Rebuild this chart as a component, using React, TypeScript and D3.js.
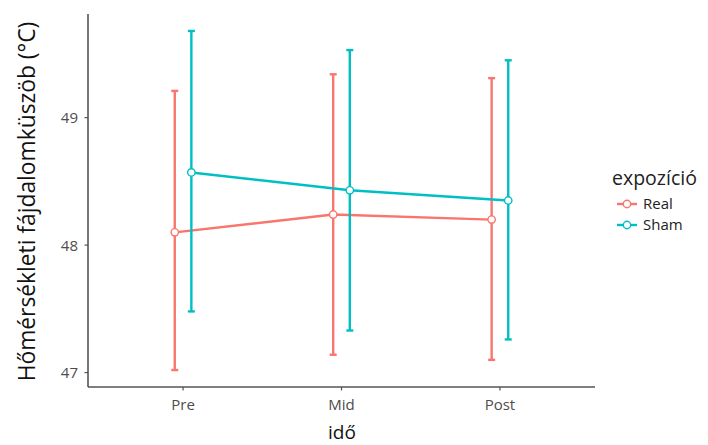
import React from "react";
import * as d3 from "d3";

const categories = ["Pre", "Mid", "Post"];
const groups = ["Real", "Sham"];
const colors = ["#F8766D", "#00BFC4"];

const realMean = [48.1, 48.24, 48.2];
const realLow = [47.02, 47.14, 47.1];
const realHigh = [49.21, 49.34, 49.31];

const shamMean = [48.57, 48.43, 48.35];
const shamLow = [47.48, 47.33, 47.26];
const shamHigh = [49.68, 49.53, 49.45];

const yTicks = [47, 48, 49];

const W = 708;
const H = 445;
const margin = { left: 88, right: 113, top: 14, bottom: 58 };

export default function App() {
  const series = [
    { name: groups[0], color: colors[0], mean: realMean, low: realLow, high: realHigh },
    { name: groups[1], color: colors[1], mean: shamMean, low: shamLow, high: shamHigh },
  ];

  const x0 = margin.left;
  const x1 = W - margin.right;
  const yTop = margin.top;
  const yBot = H - margin.bottom;

  // discrete axis with ggplot-style 0.6 expansion
  const x = d3.scalePoint<string>().domain(categories).range([x0, x1]).padding(0.6);

  const allVals = [...realLow, ...realHigh, ...shamLow, ...shamHigh];
  const lo = d3.min(allVals)!;
  const hi = d3.max(allVals)!;
  const pad = (hi - lo) * 0.05;
  const y = d3.scaleLinear().domain([lo - pad, hi + pad]).range([yBot, yTop]);

  const dodge = (g: number) => (g === 0 ? -8.3 : 8.3);
  const line = d3.line<number>();

  const axisColor = "#555555";
  const tickText = "#4D4D4D";
  const font = "'Open Sans', 'DejaVu Sans', sans-serif";
  const lw = 2.4;

  return (
    <svg width={W} height={H} style={{ position: "absolute", left: 0, top: 0, background: "#fff" }} fontFamily={font}>
      {/* series lines, error bars and points */}
      {series.map((s, gi) => {
        const pts = categories.map((c, i) => [x(c)! + dodge(gi), y(s.mean[i])] as [number, number]);
        return (
          <g key={s.name}>
            <path d={line(pts as any) || ""} fill="none" stroke={s.color} strokeWidth={lw} />
            {categories.map((c, i) => {
              const cx = x(c)! + dodge(gi);
              return (
                <g key={c}>
                  <line x1={cx} x2={cx} y1={y(s.low[i])} y2={y(s.high[i])} stroke={s.color} strokeWidth={lw} />
                  <line x1={cx - 3.5} x2={cx + 3.5} y1={y(s.low[i])} y2={y(s.low[i])} stroke={s.color} strokeWidth={lw} />
                  <line x1={cx - 3.5} x2={cx + 3.5} y1={y(s.high[i])} y2={y(s.high[i])} stroke={s.color} strokeWidth={lw} />
                </g>
              );
            })}
            {pts.map((p, i) => (
              <circle key={i} cx={p[0]} cy={p[1]} r={3.7} fill="#fff" stroke={s.color} strokeWidth={1.4} />
            ))}
          </g>
        );
      })}

      {/* axes */}
      <line x1={x0} x2={x0} y1={yTop} y2={yBot} stroke={axisColor} strokeWidth={1.6} />
      <line x1={x0} x2={x1} y1={yBot} y2={yBot} stroke={axisColor} strokeWidth={1.6} />
      {yTicks.map((t) => (
        <g key={t}>
          <line x1={x0 - 3.5} x2={x0} y1={y(t)} y2={y(t)} stroke={axisColor} strokeWidth={1.2} />
          <text x={x0 - 10} y={y(t)} dy="0.36em" textAnchor="end" fontSize={15} fill={tickText}>
            {t}
          </text>
        </g>
      ))}
      {categories.map((c) => (
        <g key={c}>
          <line x1={x(c)!} x2={x(c)!} y1={yBot} y2={yBot + 3.5} stroke={axisColor} strokeWidth={1.2} />
          <text x={x(c)!} y={yBot + 23} textAnchor="middle" fontSize={15} fill={tickText}>
            {c}
          </text>
        </g>
      ))}

      {/* axis titles */}
      <text x={342} y={439} textAnchor="middle" fontSize={19} fill="#111">
        idő
      </text>
      <text
        transform={`translate(35, ${(yTop + yBot) / 2 + 1}) rotate(-90)`}
        textAnchor="middle"
        fontSize={22.8}
        fill="#111"
      >
        Hőmérsékleti fájdalomküszöb (°C)
      </text>

      {/* legend */}
      <text x={612} y={185} fontSize={19.5} fill="#222">
        expozíció
      </text>
      {series.map((s, gi) => {
        const ly = 204 + gi * 21;
        return (
          <g key={s.name}>
            <line x1={617} x2={637} y1={ly} y2={ly} stroke={s.color} strokeWidth={lw} />
            <circle cx={627} cy={ly} r={3.7} fill="#fff" stroke={s.color} strokeWidth={1.4} />
            <text x={643} y={ly} dy="0.36em" fontSize={15} fill="#222">
              {s.name}
            </text>
          </g>
        );
      })}
    </svg>
  );
}
